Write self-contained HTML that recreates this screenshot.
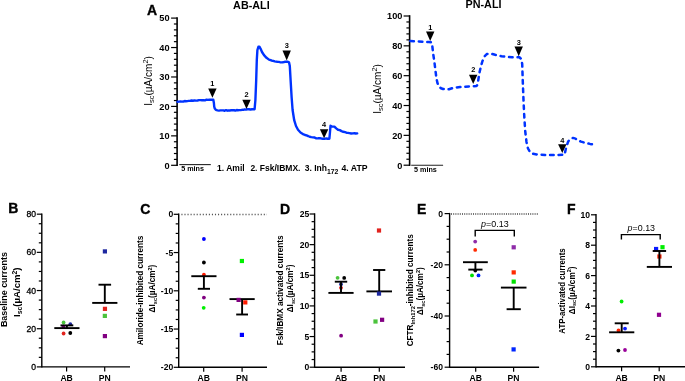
<!DOCTYPE html>
<html><head><meta charset="utf-8"><title>Figure</title>
<style>
html,body{margin:0;padding:0;background:#fff;}
body{width:685px;height:381px;overflow:hidden;}
svg{display:block;will-change:transform;filter:blur(0.3px);}
text{font-family:"Liberation Sans",sans-serif;}
</style></head>
<body>
<svg width="685" height="381" viewBox="0 0 685 381" font-family="Liberation Sans, sans-serif">
<rect width="685" height="381" fill="#fff"/>
<text x="147.00" y="14.80" font-size="14" font-weight="bold" text-anchor="start" fill="#000" stroke="#000" stroke-width="0.35">A</text>
<text x="251.40" y="8.80" font-size="10.8" font-weight="bold" text-anchor="middle" fill="#000" >AB-ALI</text>
<text x="483.50" y="7.90" font-size="10.8" font-weight="bold" text-anchor="middle" fill="#000" >PN-ALI</text>
<line x1="177.10" y1="18.10" x2="177.10" y2="165.30" stroke="#000" stroke-width="1.6" stroke-linecap="square"/>
<line x1="171.10" y1="165.30" x2="177.10" y2="165.30" stroke="#000" stroke-width="1.2" />
<text x="169.60" y="168.60" font-size="9.2" font-weight="bold" text-anchor="end" fill="#000" >0</text>
<line x1="173.90" y1="159.41" x2="177.10" y2="159.41" stroke="#000" stroke-width="1.2" />
<line x1="173.90" y1="153.52" x2="177.10" y2="153.52" stroke="#000" stroke-width="1.2" />
<line x1="173.90" y1="147.64" x2="177.10" y2="147.64" stroke="#000" stroke-width="1.2" />
<line x1="173.90" y1="141.75" x2="177.10" y2="141.75" stroke="#000" stroke-width="1.2" />
<line x1="171.10" y1="135.86" x2="177.10" y2="135.86" stroke="#000" stroke-width="1.2" />
<text x="169.60" y="139.16" font-size="9.2" font-weight="bold" text-anchor="end" fill="#000" >10</text>
<line x1="173.90" y1="129.97" x2="177.10" y2="129.97" stroke="#000" stroke-width="1.2" />
<line x1="173.90" y1="124.08" x2="177.10" y2="124.08" stroke="#000" stroke-width="1.2" />
<line x1="173.90" y1="118.20" x2="177.10" y2="118.20" stroke="#000" stroke-width="1.2" />
<line x1="173.90" y1="112.31" x2="177.10" y2="112.31" stroke="#000" stroke-width="1.2" />
<line x1="171.10" y1="106.42" x2="177.10" y2="106.42" stroke="#000" stroke-width="1.2" />
<text x="169.60" y="109.72" font-size="9.2" font-weight="bold" text-anchor="end" fill="#000" >20</text>
<line x1="173.90" y1="100.53" x2="177.10" y2="100.53" stroke="#000" stroke-width="1.2" />
<line x1="173.90" y1="94.64" x2="177.10" y2="94.64" stroke="#000" stroke-width="1.2" />
<line x1="173.90" y1="88.76" x2="177.10" y2="88.76" stroke="#000" stroke-width="1.2" />
<line x1="173.90" y1="82.87" x2="177.10" y2="82.87" stroke="#000" stroke-width="1.2" />
<line x1="171.10" y1="76.98" x2="177.10" y2="76.98" stroke="#000" stroke-width="1.2" />
<text x="169.60" y="80.28" font-size="9.2" font-weight="bold" text-anchor="end" fill="#000" >30</text>
<line x1="173.90" y1="71.09" x2="177.10" y2="71.09" stroke="#000" stroke-width="1.2" />
<line x1="173.90" y1="65.20" x2="177.10" y2="65.20" stroke="#000" stroke-width="1.2" />
<line x1="173.90" y1="59.32" x2="177.10" y2="59.32" stroke="#000" stroke-width="1.2" />
<line x1="173.90" y1="53.43" x2="177.10" y2="53.43" stroke="#000" stroke-width="1.2" />
<line x1="171.10" y1="47.54" x2="177.10" y2="47.54" stroke="#000" stroke-width="1.2" />
<text x="169.60" y="50.84" font-size="9.2" font-weight="bold" text-anchor="end" fill="#000" >40</text>
<line x1="173.90" y1="41.65" x2="177.10" y2="41.65" stroke="#000" stroke-width="1.2" />
<line x1="173.90" y1="35.76" x2="177.10" y2="35.76" stroke="#000" stroke-width="1.2" />
<line x1="173.90" y1="29.88" x2="177.10" y2="29.88" stroke="#000" stroke-width="1.2" />
<line x1="173.90" y1="23.99" x2="177.10" y2="23.99" stroke="#000" stroke-width="1.2" />
<line x1="171.10" y1="18.10" x2="177.10" y2="18.10" stroke="#000" stroke-width="1.2" />
<text x="169.60" y="21.40" font-size="9.2" font-weight="bold" text-anchor="end" fill="#000" >50</text>
<text x="152.00" y="81.00" font-size="10" text-anchor="middle" fill="#000" transform="rotate(-90 152.00 81.00)" >I<tspan font-size="7.6" dy="2.3">sc</tspan><tspan dy="-2.3">(µA/cm</tspan><tspan font-size="7.4" dy="-3.9">2</tspan><tspan dy="3.9">)</tspan></text>
<line x1="179.30" y1="164.60" x2="210.80" y2="164.60" stroke="#222" stroke-width="1.1" />
<text x="181.20" y="171.20" font-size="7.2" font-weight="bold" text-anchor="start" fill="#000" >5 mins</text>
<text x="217.10" y="170.90" font-size="8.5" font-weight="bold" text-anchor="start" fill="#000" >1. Amil</text>
<text x="250.40" y="170.90" font-size="8.5" font-weight="bold" text-anchor="start" fill="#000" >2. Fsk/IBMX.</text>
<text x="304.70" y="170.90" font-size="8.5" font-weight="bold" text-anchor="start" fill="#000" >3. Inh<tspan font-size="6.8" dy="2.6">172</tspan></text>
<text x="341.50" y="170.90" font-size="8.7" font-weight="bold" text-anchor="start" fill="#000" >4. ATP</text>
<path d="M177.50,101.80 L179.00,101.61 L180.50,101.42 L182.00,101.60 L183.33,101.57 L184.67,101.03 L186.00,101.20 L187.33,101.13 L188.67,100.91 L190.00,100.90 L191.50,100.52 L193.00,100.76 L194.50,100.35 L196.00,100.60 L197.50,100.48 L199.00,100.15 L200.50,100.09 L202.00,100.30 L203.50,100.15 L205.00,100.33 L206.50,99.74 L208.00,99.90 L209.47,99.61 L210.93,99.79 L212.40,99.60 L213.30,99.70 L213.90,103.00 L214.20,106.50 L214.80,108.60 L215.80,109.80 L217.50,110.30 L219.00,110.65 L220.50,110.42 L222.00,110.40 L223.33,110.34 L224.67,110.77 L226.00,110.13 L227.33,110.72 L228.67,110.34 L230.00,110.50 L231.33,110.20 L232.67,110.13 L234.00,110.22 L235.33,110.52 L236.67,110.03 L238.00,110.20 L239.33,110.16 L240.67,110.10 L242.00,109.81 L243.33,109.83 L244.67,109.39 L246.00,109.60 L247.50,109.22 L249.00,109.24 L250.50,109.50 L252.00,109.30 L254.60,109.20 L255.40,100.00 L256.20,80.00 L256.80,60.00 L257.40,50.00 L258.40,46.80 L259.40,46.70 L260.60,48.80 L262.00,52.00 L264.00,55.20 L266.50,57.80 L269.00,59.60 L270.50,60.10 L272.00,60.70 L273.33,60.87 L274.67,61.36 L276.00,61.60 L277.33,61.77 L278.67,61.86 L280.00,62.20 L281.33,62.34 L282.67,62.21 L284.00,62.00 L285.75,61.67 L287.50,61.70 L289.00,62.30 L289.80,66.00 L290.60,80.00 L291.60,97.00 L292.60,110.00 L294.20,120.20 L296.00,126.00 L298.00,129.80 L300.50,132.50 L303.60,134.40 L305.07,134.99 L306.53,135.48 L308.00,136.00 L309.67,136.73 L311.33,137.09 L313.00,137.40 L314.67,137.55 L316.33,138.34 L318.00,138.30 L319.67,138.17 L321.33,138.51 L323.00,138.70 L324.60,138.88 L326.20,138.46 L327.80,138.69 L329.40,138.70 L330.00,132.00 L330.50,125.80 L332.00,126.60 L334.40,126.60 L336.20,128.40 L338.00,129.80 L339.75,130.13 L341.50,131.10 L343.25,131.77 L345.00,132.20 L346.47,132.69 L347.93,132.85 L349.40,133.10 L351.20,133.51 L353.00,133.40 L354.40,133.27 L355.80,133.54 L357.20,133.40" fill="none" stroke="#0033ff" stroke-width="2.4" stroke-linejoin="round" stroke-linecap="round"/>
<path d="M208.20,88.60 L216.60,88.60 L212.40,97.80 Z" fill="#000"/>
<text x="212.40" y="85.80" font-size="7.4" font-weight="bold" text-anchor="middle" fill="#000" >1</text>
<path d="M242.30,99.70 L250.70,99.70 L246.50,108.90 Z" fill="#000"/>
<text x="246.50" y="96.90" font-size="7.4" font-weight="bold" text-anchor="middle" fill="#000" >2</text>
<path d="M282.50,50.40 L290.90,50.40 L286.70,60.40 Z" fill="#000"/>
<text x="286.70" y="48.40" font-size="7.4" font-weight="bold" text-anchor="middle" fill="#000" >3</text>
<path d="M319.90,129.30 L328.30,129.30 L324.10,138.20 Z" fill="#000"/>
<text x="324.10" y="127.40" font-size="7.4" font-weight="bold" text-anchor="middle" fill="#000" >4</text>
<line x1="409.60" y1="16.00" x2="409.60" y2="165.20" stroke="#000" stroke-width="1.6" stroke-linecap="square"/>
<line x1="403.60" y1="165.20" x2="409.60" y2="165.20" stroke="#000" stroke-width="1.2" />
<text x="402.40" y="168.50" font-size="9.2" font-weight="bold" text-anchor="end" fill="#000" >0</text>
<line x1="406.40" y1="159.23" x2="409.60" y2="159.23" stroke="#000" stroke-width="1.2" />
<line x1="406.40" y1="153.26" x2="409.60" y2="153.26" stroke="#000" stroke-width="1.2" />
<line x1="406.40" y1="147.30" x2="409.60" y2="147.30" stroke="#000" stroke-width="1.2" />
<line x1="406.40" y1="141.33" x2="409.60" y2="141.33" stroke="#000" stroke-width="1.2" />
<line x1="403.60" y1="135.36" x2="409.60" y2="135.36" stroke="#000" stroke-width="1.2" />
<text x="402.40" y="138.66" font-size="9.2" font-weight="bold" text-anchor="end" fill="#000" >20</text>
<line x1="406.40" y1="129.39" x2="409.60" y2="129.39" stroke="#000" stroke-width="1.2" />
<line x1="406.40" y1="123.42" x2="409.60" y2="123.42" stroke="#000" stroke-width="1.2" />
<line x1="406.40" y1="117.46" x2="409.60" y2="117.46" stroke="#000" stroke-width="1.2" />
<line x1="406.40" y1="111.49" x2="409.60" y2="111.49" stroke="#000" stroke-width="1.2" />
<line x1="403.60" y1="105.52" x2="409.60" y2="105.52" stroke="#000" stroke-width="1.2" />
<text x="402.40" y="108.82" font-size="9.2" font-weight="bold" text-anchor="end" fill="#000" >40</text>
<line x1="406.40" y1="99.55" x2="409.60" y2="99.55" stroke="#000" stroke-width="1.2" />
<line x1="406.40" y1="93.58" x2="409.60" y2="93.58" stroke="#000" stroke-width="1.2" />
<line x1="406.40" y1="87.62" x2="409.60" y2="87.62" stroke="#000" stroke-width="1.2" />
<line x1="406.40" y1="81.65" x2="409.60" y2="81.65" stroke="#000" stroke-width="1.2" />
<line x1="403.60" y1="75.68" x2="409.60" y2="75.68" stroke="#000" stroke-width="1.2" />
<text x="402.40" y="78.98" font-size="9.2" font-weight="bold" text-anchor="end" fill="#000" >60</text>
<line x1="406.40" y1="69.71" x2="409.60" y2="69.71" stroke="#000" stroke-width="1.2" />
<line x1="406.40" y1="63.74" x2="409.60" y2="63.74" stroke="#000" stroke-width="1.2" />
<line x1="406.40" y1="57.78" x2="409.60" y2="57.78" stroke="#000" stroke-width="1.2" />
<line x1="406.40" y1="51.81" x2="409.60" y2="51.81" stroke="#000" stroke-width="1.2" />
<line x1="403.60" y1="45.84" x2="409.60" y2="45.84" stroke="#000" stroke-width="1.2" />
<text x="402.40" y="49.14" font-size="9.2" font-weight="bold" text-anchor="end" fill="#000" >80</text>
<line x1="406.40" y1="39.87" x2="409.60" y2="39.87" stroke="#000" stroke-width="1.2" />
<line x1="406.40" y1="33.90" x2="409.60" y2="33.90" stroke="#000" stroke-width="1.2" />
<line x1="406.40" y1="27.94" x2="409.60" y2="27.94" stroke="#000" stroke-width="1.2" />
<line x1="406.40" y1="21.97" x2="409.60" y2="21.97" stroke="#000" stroke-width="1.2" />
<line x1="403.60" y1="16.00" x2="409.60" y2="16.00" stroke="#000" stroke-width="1.2" />
<text x="402.40" y="19.30" font-size="9.2" font-weight="bold" text-anchor="end" fill="#000" >100</text>
<text x="380.60" y="89.00" font-size="10" text-anchor="middle" fill="#000" transform="rotate(-90 380.60 89.00)" >I<tspan font-size="7.6" dy="2.3">sc</tspan><tspan dy="-2.3">(µA/cm</tspan><tspan font-size="7.4" dy="-3.9">2</tspan><tspan dy="3.9">)</tspan></text>
<line x1="411.20" y1="165.30" x2="443.10" y2="165.30" stroke="#222" stroke-width="1.1" />
<text x="414.00" y="171.90" font-size="7.2" font-weight="bold" text-anchor="start" fill="#000" >5 mins</text>
<path d="M410.30,41.00 L414.00,41.20 L418.00,41.50 L424.00,41.80 L429.00,42.00 L431.30,42.30 L432.30,46.00 L433.20,54.00 L434.40,62.00 L435.50,71.00 L436.50,78.80 L437.60,83.50 L439.00,86.50 L441.00,88.30 L443.00,89.00 L446.00,89.40 L449.00,89.20 L452.00,88.30 L455.40,87.60 L460.00,87.10 L464.00,86.80 L470.00,86.50 L476.50,86.00 L477.60,84.50 L478.60,78.00 L479.60,72.00 L481.00,66.00 L482.50,61.00 L484.70,56.20 L486.80,54.00 L489.00,53.70 L492.00,54.00 L495.20,54.80 L501.50,56.20 L507.00,56.90 L512.00,57.30 L519.40,57.30 L521.30,59.00 L522.20,64.00 L522.80,82.00 L523.50,100.00 L524.20,115.00 L525.20,131.00 L526.50,142.00 L528.00,148.50 L530.00,152.00 L533.00,153.80 L537.30,154.50 L547.80,155.10 L556.00,155.00 L564.60,154.70 L565.60,150.00 L566.60,146.00 L568.20,141.50 L570.00,139.20 L573.00,137.90 L575.50,138.60 L577.20,140.00 L581.00,141.60 L585.60,142.90 L590.00,143.90 L594.50,144.60" fill="none" stroke="#0033ff" stroke-width="2.5" stroke-dasharray="3.6 4.9" stroke-linejoin="round" stroke-linecap="round"/>
<path d="M426.00,31.60 L434.40,31.60 L430.20,41.00 Z" fill="#000"/>
<text x="430.20" y="29.80" font-size="7.4" font-weight="bold" text-anchor="middle" fill="#000" >1</text>
<path d="M469.00,74.70 L477.40,74.70 L473.20,84.00 Z" fill="#000"/>
<text x="473.20" y="72.30" font-size="7.4" font-weight="bold" text-anchor="middle" fill="#000" >2</text>
<path d="M514.50,46.50 L522.90,46.50 L518.70,56.20 Z" fill="#000"/>
<text x="518.70" y="44.60" font-size="7.4" font-weight="bold" text-anchor="middle" fill="#000" >3</text>
<path d="M558.10,144.30 L566.50,144.30 L562.30,153.00 Z" fill="#000"/>
<text x="562.30" y="142.60" font-size="7.4" font-weight="bold" text-anchor="middle" fill="#000" >4</text>
<text x="8.20" y="213.40" font-size="14" font-weight="bold" text-anchor="start" fill="#000" stroke="#000" stroke-width="0.35">B</text>
<text x="140.20" y="213.50" font-size="14" font-weight="bold" text-anchor="start" fill="#000" stroke="#000" stroke-width="0.35">C</text>
<text x="280.10" y="213.50" font-size="14" font-weight="bold" text-anchor="start" fill="#000" stroke="#000" stroke-width="0.35">D</text>
<text x="417.10" y="213.50" font-size="14" font-weight="bold" text-anchor="start" fill="#000" stroke="#000" stroke-width="0.35">E</text>
<text x="566.90" y="213.90" font-size="14" font-weight="bold" text-anchor="start" fill="#000" stroke="#000" stroke-width="0.35">F</text>
<line x1="41.80" y1="214.18" x2="41.80" y2="366.90" stroke="#000" stroke-width="1.4" stroke-linecap="square"/>
<line x1="36.80" y1="366.90" x2="41.80" y2="366.90" stroke="#000" stroke-width="1.2" />
<text x="36.00" y="369.90" font-size="8.6" text-anchor="end" fill="#000" stroke="#000" stroke-width="0.3">0</text>
<line x1="38.80" y1="357.35" x2="41.80" y2="357.35" stroke="#000" stroke-width="1.2" />
<line x1="38.80" y1="347.81" x2="41.80" y2="347.81" stroke="#000" stroke-width="1.2" />
<line x1="38.80" y1="338.26" x2="41.80" y2="338.26" stroke="#000" stroke-width="1.2" />
<line x1="36.80" y1="328.72" x2="41.80" y2="328.72" stroke="#000" stroke-width="1.2" />
<text x="36.00" y="331.72" font-size="8.6" text-anchor="end" fill="#000" stroke="#000" stroke-width="0.3">20</text>
<line x1="38.80" y1="319.17" x2="41.80" y2="319.17" stroke="#000" stroke-width="1.2" />
<line x1="38.80" y1="309.63" x2="41.80" y2="309.63" stroke="#000" stroke-width="1.2" />
<line x1="38.80" y1="300.08" x2="41.80" y2="300.08" stroke="#000" stroke-width="1.2" />
<line x1="36.80" y1="290.54" x2="41.80" y2="290.54" stroke="#000" stroke-width="1.2" />
<text x="36.00" y="293.54" font-size="8.6" text-anchor="end" fill="#000" stroke="#000" stroke-width="0.3">40</text>
<line x1="38.80" y1="281.00" x2="41.80" y2="281.00" stroke="#000" stroke-width="1.2" />
<line x1="38.80" y1="271.45" x2="41.80" y2="271.45" stroke="#000" stroke-width="1.2" />
<line x1="38.80" y1="261.90" x2="41.80" y2="261.90" stroke="#000" stroke-width="1.2" />
<line x1="36.80" y1="252.36" x2="41.80" y2="252.36" stroke="#000" stroke-width="1.2" />
<text x="36.00" y="255.36" font-size="8.6" text-anchor="end" fill="#000" stroke="#000" stroke-width="0.3">60</text>
<line x1="38.80" y1="242.81" x2="41.80" y2="242.81" stroke="#000" stroke-width="1.2" />
<line x1="38.80" y1="233.27" x2="41.80" y2="233.27" stroke="#000" stroke-width="1.2" />
<line x1="38.80" y1="223.72" x2="41.80" y2="223.72" stroke="#000" stroke-width="1.2" />
<line x1="36.80" y1="214.18" x2="41.80" y2="214.18" stroke="#000" stroke-width="1.2" />
<text x="36.00" y="217.18" font-size="8.6" text-anchor="end" fill="#000" stroke="#000" stroke-width="0.3">80</text>
<line x1="41.80" y1="366.90" x2="130.00" y2="366.90" stroke="#000" stroke-width="1.4" />
<line x1="66.60" y1="366.90" x2="66.60" y2="371.40" stroke="#000" stroke-width="1.2" />
<text x="66.60" y="380.90" font-size="8.6" font-weight="bold" text-anchor="middle" fill="#000" >AB</text>
<line x1="104.70" y1="366.90" x2="104.70" y2="371.40" stroke="#000" stroke-width="1.2" />
<text x="104.70" y="380.90" font-size="8.6" font-weight="bold" text-anchor="middle" fill="#000" >PN</text>
<text x="6.90" y="289.60" font-size="8.5" font-weight="bold" text-anchor="middle" fill="#000" textLength="75" lengthAdjust="spacingAndGlyphs" transform="rotate(-90 6.90 289.60)" >Baseline currents</text>
<text x="20.20" y="292.20" font-size="9.2" font-weight="bold" text-anchor="middle" fill="#000" textLength="49.5" lengthAdjust="spacingAndGlyphs" transform="rotate(-90 20.20 292.20)" ><tspan>I</tspan><tspan font-size="6.6" dy="2">sc</tspan><tspan dy="-2">(µA/cm</tspan><tspan font-size="6.6" dy="-3.6">2</tspan><tspan dy="3.6">)</tspan></text>
<circle cx="63.60" cy="322.50" r="1.9" fill="#4bc33c"/>
<circle cx="70.30" cy="324.20" r="1.9" fill="#1e28a0"/>
<circle cx="63.40" cy="326.70" r="1.9" fill="#820082"/>
<circle cx="70.30" cy="333.00" r="1.9" fill="#000"/>
<circle cx="63.60" cy="333.50" r="1.9" fill="#e1231e"/>
<line x1="54.30" y1="328.10" x2="79.50" y2="328.10" stroke="#000" stroke-width="1.9" />
<line x1="66.90" y1="328.10" x2="66.90" y2="325.40" stroke="#000" stroke-width="1.9" />
<line x1="60.50" y1="325.40" x2="73.30" y2="325.40" stroke="#000" stroke-width="1.9" />
<rect x="102.80" y="249.30" width="4.2" height="4.2" fill="#1e28a0"/>
<rect x="102.85" y="306.75" width="4.2" height="4.2" fill="#e1231e"/>
<rect x="102.75" y="313.80" width="4.2" height="4.2" fill="#4bc33c"/>
<rect x="102.80" y="334.00" width="4.2" height="4.2" fill="#820082"/>
<line x1="92.20" y1="302.90" x2="117.40" y2="302.90" stroke="#000" stroke-width="1.9" />
<line x1="104.80" y1="302.90" x2="104.80" y2="284.70" stroke="#000" stroke-width="1.9" />
<line x1="98.50" y1="284.70" x2="111.10" y2="284.70" stroke="#000" stroke-width="1.9" />
<line x1="178.70" y1="214.30" x2="178.70" y2="367.30" stroke="#000" stroke-width="1.4" stroke-linecap="square"/>
<line x1="173.70" y1="367.30" x2="178.70" y2="367.30" stroke="#000" stroke-width="1.2" />
<text x="173.20" y="370.40" font-size="8.6" font-weight="bold" text-anchor="end" fill="#000" >-20</text>
<line x1="175.70" y1="357.74" x2="178.70" y2="357.74" stroke="#000" stroke-width="1.2" />
<line x1="175.70" y1="348.18" x2="178.70" y2="348.18" stroke="#000" stroke-width="1.2" />
<line x1="175.70" y1="338.61" x2="178.70" y2="338.61" stroke="#000" stroke-width="1.2" />
<line x1="173.70" y1="329.05" x2="178.70" y2="329.05" stroke="#000" stroke-width="1.2" />
<text x="173.20" y="332.15" font-size="8.6" font-weight="bold" text-anchor="end" fill="#000" >-15</text>
<line x1="175.70" y1="319.49" x2="178.70" y2="319.49" stroke="#000" stroke-width="1.2" />
<line x1="175.70" y1="309.93" x2="178.70" y2="309.93" stroke="#000" stroke-width="1.2" />
<line x1="175.70" y1="300.36" x2="178.70" y2="300.36" stroke="#000" stroke-width="1.2" />
<line x1="173.70" y1="290.80" x2="178.70" y2="290.80" stroke="#000" stroke-width="1.2" />
<text x="173.20" y="293.90" font-size="8.6" font-weight="bold" text-anchor="end" fill="#000" >-10</text>
<line x1="175.70" y1="281.24" x2="178.70" y2="281.24" stroke="#000" stroke-width="1.2" />
<line x1="175.70" y1="271.68" x2="178.70" y2="271.68" stroke="#000" stroke-width="1.2" />
<line x1="175.70" y1="262.11" x2="178.70" y2="262.11" stroke="#000" stroke-width="1.2" />
<line x1="173.70" y1="252.55" x2="178.70" y2="252.55" stroke="#000" stroke-width="1.2" />
<text x="173.20" y="255.65" font-size="8.6" font-weight="bold" text-anchor="end" fill="#000" >-5</text>
<line x1="175.70" y1="242.99" x2="178.70" y2="242.99" stroke="#000" stroke-width="1.2" />
<line x1="175.70" y1="233.43" x2="178.70" y2="233.43" stroke="#000" stroke-width="1.2" />
<line x1="175.70" y1="223.86" x2="178.70" y2="223.86" stroke="#000" stroke-width="1.2" />
<line x1="173.70" y1="214.30" x2="178.70" y2="214.30" stroke="#000" stroke-width="1.2" />
<text x="173.20" y="217.40" font-size="8.6" font-weight="bold" text-anchor="end" fill="#000" >0</text>
<line x1="181.40" y1="214.50" x2="267.00" y2="214.50" stroke="#555" stroke-width="1.3" stroke-dasharray="1.1 1.95"/>
<line x1="178.70" y1="367.30" x2="267.00" y2="367.30" stroke="#000" stroke-width="1.4" />
<line x1="203.70" y1="367.30" x2="203.70" y2="371.80" stroke="#000" stroke-width="1.2" />
<text x="203.70" y="380.90" font-size="8.6" font-weight="bold" text-anchor="middle" fill="#000" >AB</text>
<line x1="242.10" y1="367.30" x2="242.10" y2="371.80" stroke="#000" stroke-width="1.2" />
<text x="242.10" y="380.90" font-size="8.6" font-weight="bold" text-anchor="middle" fill="#000" >PN</text>
<text x="142.90" y="290.50" font-size="8.2" font-weight="bold" text-anchor="middle" fill="#000" textLength="109.7" lengthAdjust="spacingAndGlyphs" transform="rotate(-90 142.90 290.50)" >Amiloride-inhibited currents</text>
<text x="155.00" y="288.50" font-size="8.2" font-weight="bold" text-anchor="middle" fill="#000" transform="rotate(-90 155.00 288.50)" >ΔI<tspan font-size="5.6" dy="1.8">sc</tspan><tspan dy="-1.8">(µA/cm</tspan><tspan font-size="5.6" dy="-3.2">2</tspan><tspan dy="3.2">)</tspan></text>
<circle cx="203.90" cy="239.00" r="1.9" fill="#0000ff"/>
<circle cx="203.90" cy="262.50" r="1.9" fill="#000"/>
<circle cx="203.90" cy="274.70" r="1.9" fill="#ff1a00"/>
<circle cx="203.90" cy="297.60" r="1.9" fill="#800080"/>
<circle cx="203.70" cy="307.80" r="1.9" fill="#00f000"/>
<line x1="191.30" y1="276.20" x2="216.50" y2="276.20" stroke="#000" stroke-width="1.9" />
<line x1="203.90" y1="276.20" x2="203.90" y2="288.80" stroke="#000" stroke-width="1.9" />
<line x1="197.80" y1="288.80" x2="210.00" y2="288.80" stroke="#000" stroke-width="1.9" />
<rect x="239.80" y="258.90" width="4.2" height="4.2" fill="#00f000"/>
<rect x="243.20" y="300.30" width="4.2" height="4.2" fill="#ff1a00"/>
<rect x="239.80" y="332.80" width="4.2" height="4.2" fill="#0000ff"/>
<line x1="229.50" y1="299.10" x2="254.70" y2="299.10" stroke="#000" stroke-width="1.9" />
<line x1="242.10" y1="299.10" x2="242.10" y2="314.50" stroke="#000" stroke-width="1.9" />
<line x1="236.20" y1="314.50" x2="248.00" y2="314.50" stroke="#000" stroke-width="1.9" />
<rect x="236.50" y="297.80" width="4.2" height="4.2" fill="#800080"/>
<line x1="314.60" y1="214.00" x2="314.60" y2="367.20" stroke="#000" stroke-width="1.4" stroke-linecap="square"/>
<line x1="309.60" y1="367.20" x2="314.60" y2="367.20" stroke="#000" stroke-width="1.2" />
<text x="309.30" y="370.30" font-size="8.6" font-weight="bold" text-anchor="end" fill="#000" >0</text>
<line x1="311.60" y1="359.54" x2="314.60" y2="359.54" stroke="#000" stroke-width="1.2" />
<line x1="311.60" y1="351.88" x2="314.60" y2="351.88" stroke="#000" stroke-width="1.2" />
<line x1="311.60" y1="344.22" x2="314.60" y2="344.22" stroke="#000" stroke-width="1.2" />
<line x1="309.60" y1="336.56" x2="314.60" y2="336.56" stroke="#000" stroke-width="1.2" />
<text x="309.30" y="339.66" font-size="8.6" font-weight="bold" text-anchor="end" fill="#000" >5</text>
<line x1="311.60" y1="328.90" x2="314.60" y2="328.90" stroke="#000" stroke-width="1.2" />
<line x1="311.60" y1="321.24" x2="314.60" y2="321.24" stroke="#000" stroke-width="1.2" />
<line x1="311.60" y1="313.58" x2="314.60" y2="313.58" stroke="#000" stroke-width="1.2" />
<line x1="309.60" y1="305.92" x2="314.60" y2="305.92" stroke="#000" stroke-width="1.2" />
<text x="309.30" y="309.02" font-size="8.6" font-weight="bold" text-anchor="end" fill="#000" >10</text>
<line x1="311.60" y1="298.26" x2="314.60" y2="298.26" stroke="#000" stroke-width="1.2" />
<line x1="311.60" y1="290.60" x2="314.60" y2="290.60" stroke="#000" stroke-width="1.2" />
<line x1="311.60" y1="282.94" x2="314.60" y2="282.94" stroke="#000" stroke-width="1.2" />
<line x1="309.60" y1="275.28" x2="314.60" y2="275.28" stroke="#000" stroke-width="1.2" />
<text x="309.30" y="278.38" font-size="8.6" font-weight="bold" text-anchor="end" fill="#000" >15</text>
<line x1="311.60" y1="267.62" x2="314.60" y2="267.62" stroke="#000" stroke-width="1.2" />
<line x1="311.60" y1="259.96" x2="314.60" y2="259.96" stroke="#000" stroke-width="1.2" />
<line x1="311.60" y1="252.30" x2="314.60" y2="252.30" stroke="#000" stroke-width="1.2" />
<line x1="309.60" y1="244.64" x2="314.60" y2="244.64" stroke="#000" stroke-width="1.2" />
<text x="309.30" y="247.74" font-size="8.6" font-weight="bold" text-anchor="end" fill="#000" >20</text>
<line x1="311.60" y1="236.98" x2="314.60" y2="236.98" stroke="#000" stroke-width="1.2" />
<line x1="311.60" y1="229.32" x2="314.60" y2="229.32" stroke="#000" stroke-width="1.2" />
<line x1="311.60" y1="221.66" x2="314.60" y2="221.66" stroke="#000" stroke-width="1.2" />
<line x1="309.60" y1="214.00" x2="314.60" y2="214.00" stroke="#000" stroke-width="1.2" />
<text x="309.30" y="217.10" font-size="8.6" font-weight="bold" text-anchor="end" fill="#000" >25</text>
<line x1="314.60" y1="367.20" x2="405.00" y2="367.20" stroke="#000" stroke-width="1.4" />
<line x1="341.10" y1="367.20" x2="341.10" y2="371.70" stroke="#000" stroke-width="1.2" />
<text x="341.10" y="380.90" font-size="8.6" font-weight="bold" text-anchor="middle" fill="#000" >AB</text>
<line x1="379.30" y1="367.20" x2="379.30" y2="371.70" stroke="#000" stroke-width="1.2" />
<text x="379.30" y="380.90" font-size="8.6" font-weight="bold" text-anchor="middle" fill="#000" >PN</text>
<text x="282.70" y="290.30" font-size="8.2" font-weight="bold" text-anchor="middle" fill="#000" textLength="110" lengthAdjust="spacingAndGlyphs" transform="rotate(-90 282.70 290.30)" >Fsk/IBMX activated currents</text>
<text x="293.20" y="288.40" font-size="8.2" font-weight="bold" text-anchor="middle" fill="#000" transform="rotate(-90 293.20 288.40)" >ΔI<tspan font-size="5.6" dy="1.8">sc</tspan><tspan dy="-1.8">(µA/cm</tspan><tspan font-size="5.6" dy="-3.2">2</tspan><tspan dy="3.2">)</tspan></text>
<circle cx="337.60" cy="277.80" r="1.9" fill="#4bc33c"/>
<circle cx="344.20" cy="277.90" r="1.9" fill="#000"/>
<circle cx="341.00" cy="284.20" r="1.9" fill="#1e28a0"/>
<circle cx="341.00" cy="287.80" r="1.9" fill="#e1231e"/>
<circle cx="341.10" cy="335.70" r="1.9" fill="#820082"/>
<line x1="328.40" y1="292.90" x2="353.60" y2="292.90" stroke="#000" stroke-width="1.9" />
<line x1="341.00" y1="292.90" x2="341.00" y2="281.70" stroke="#000" stroke-width="1.9" />
<line x1="334.80" y1="281.70" x2="347.20" y2="281.70" stroke="#000" stroke-width="1.9" />
<rect x="376.90" y="228.40" width="4.2" height="4.2" fill="#e1231e"/>
<rect x="373.40" y="319.40" width="4.2" height="4.2" fill="#4bc33c"/>
<rect x="380.00" y="317.70" width="4.2" height="4.2" fill="#820082"/>
<line x1="366.40" y1="291.40" x2="392.00" y2="291.40" stroke="#000" stroke-width="1.9" />
<line x1="379.20" y1="291.40" x2="379.20" y2="270.00" stroke="#000" stroke-width="1.9" />
<line x1="373.10" y1="270.00" x2="385.30" y2="270.00" stroke="#000" stroke-width="1.9" />
<rect x="376.90" y="291.50" width="4.2" height="4.2" fill="#1e28a0"/>
<line x1="449.60" y1="213.60" x2="449.60" y2="367.20" stroke="#000" stroke-width="1.4" stroke-linecap="square"/>
<line x1="444.60" y1="367.20" x2="449.60" y2="367.20" stroke="#000" stroke-width="1.2" />
<text x="443.00" y="370.30" font-size="8.6" font-weight="bold" text-anchor="end" fill="#000" >-60</text>
<line x1="446.60" y1="354.40" x2="449.60" y2="354.40" stroke="#000" stroke-width="1.2" />
<line x1="446.60" y1="341.60" x2="449.60" y2="341.60" stroke="#000" stroke-width="1.2" />
<line x1="446.60" y1="328.80" x2="449.60" y2="328.80" stroke="#000" stroke-width="1.2" />
<line x1="444.60" y1="316.00" x2="449.60" y2="316.00" stroke="#000" stroke-width="1.2" />
<text x="443.00" y="319.10" font-size="8.6" font-weight="bold" text-anchor="end" fill="#000" >-40</text>
<line x1="446.60" y1="303.20" x2="449.60" y2="303.20" stroke="#000" stroke-width="1.2" />
<line x1="446.60" y1="290.40" x2="449.60" y2="290.40" stroke="#000" stroke-width="1.2" />
<line x1="446.60" y1="277.60" x2="449.60" y2="277.60" stroke="#000" stroke-width="1.2" />
<line x1="444.60" y1="264.80" x2="449.60" y2="264.80" stroke="#000" stroke-width="1.2" />
<text x="443.00" y="267.90" font-size="8.6" font-weight="bold" text-anchor="end" fill="#000" >-20</text>
<line x1="446.60" y1="252.00" x2="449.60" y2="252.00" stroke="#000" stroke-width="1.2" />
<line x1="446.60" y1="239.20" x2="449.60" y2="239.20" stroke="#000" stroke-width="1.2" />
<line x1="446.60" y1="226.40" x2="449.60" y2="226.40" stroke="#000" stroke-width="1.2" />
<line x1="444.60" y1="213.60" x2="449.60" y2="213.60" stroke="#000" stroke-width="1.2" />
<text x="443.00" y="216.70" font-size="8.6" font-weight="bold" text-anchor="end" fill="#000" >0</text>
<line x1="451.00" y1="214.00" x2="539.00" y2="214.00" stroke="#444" stroke-width="1.3" stroke-dasharray="1 1.2"/>
<line x1="449.60" y1="367.20" x2="539.10" y2="367.20" stroke="#000" stroke-width="1.4" />
<line x1="475.70" y1="367.20" x2="475.70" y2="371.70" stroke="#000" stroke-width="1.2" />
<text x="475.70" y="380.90" font-size="8.6" font-weight="bold" text-anchor="middle" fill="#000" >AB</text>
<line x1="513.60" y1="367.20" x2="513.60" y2="371.70" stroke="#000" stroke-width="1.2" />
<text x="513.60" y="380.90" font-size="8.6" font-weight="bold" text-anchor="middle" fill="#000" >PN</text>
<text x="412.90" y="290.30" font-size="8.2" font-weight="bold" text-anchor="middle" fill="#000" transform="rotate(-90 412.90 290.30)" >CFTR<tspan font-size="5.8" dy="1.8">Inh172</tspan><tspan dy="-1.8">-inhibited currents</tspan></text>
<text x="423.40" y="291.10" font-size="8.2" font-weight="bold" text-anchor="middle" fill="#000" transform="rotate(-90 423.40 291.10)" >ΔI<tspan font-size="5.6" dy="1.8">sc</tspan><tspan dy="-1.8">(µA/cm</tspan><tspan font-size="5.6" dy="-3.2">2</tspan><tspan dy="3.2">)</tspan></text>
<circle cx="475.20" cy="241.60" r="1.9" fill="#8e2ca8"/>
<circle cx="475.20" cy="249.90" r="1.9" fill="#ff2a00"/>
<circle cx="475.30" cy="270.60" r="1.9" fill="#000"/>
<circle cx="472.00" cy="275.40" r="1.9" fill="#00e000"/>
<circle cx="478.50" cy="275.40" r="1.9" fill="#0026ff"/>
<line x1="463.00" y1="262.20" x2="487.80" y2="262.20" stroke="#000" stroke-width="1.9" />
<line x1="475.40" y1="262.20" x2="475.40" y2="269.60" stroke="#000" stroke-width="1.9" />
<line x1="468.30" y1="269.60" x2="482.50" y2="269.60" stroke="#000" stroke-width="1.9" />
<rect x="511.60" y="245.20" width="4.2" height="4.2" fill="#8e2ca8"/>
<rect x="511.60" y="270.30" width="4.2" height="4.2" fill="#ff2a00"/>
<rect x="511.60" y="279.50" width="4.2" height="4.2" fill="#00e000"/>
<rect x="511.50" y="347.30" width="4.2" height="4.2" fill="#0026ff"/>
<line x1="500.90" y1="287.60" x2="526.50" y2="287.60" stroke="#000" stroke-width="1.9" />
<line x1="513.70" y1="287.60" x2="513.70" y2="309.20" stroke="#000" stroke-width="1.9" />
<line x1="506.60" y1="309.20" x2="520.80" y2="309.20" stroke="#000" stroke-width="1.9" />
<path d="M475.2,236.6 L475.2,230.4 L514.3,230.4 L514.3,236.6" fill="none" stroke="#000" stroke-width="1.4"/>
<text x="494.90" y="226.80" font-size="8.8" text-anchor="middle" fill="#000" textLength="27.6" lengthAdjust="spacingAndGlyphs" ><tspan font-style="italic">p</tspan>=0.13</text>
<line x1="596.00" y1="214.80" x2="596.00" y2="366.80" stroke="#000" stroke-width="1.4" stroke-linecap="square"/>
<line x1="591.00" y1="366.80" x2="596.00" y2="366.80" stroke="#000" stroke-width="1.2" />
<text x="590.00" y="369.90" font-size="8.6" font-weight="bold" text-anchor="end" fill="#000" >0</text>
<line x1="593.00" y1="359.20" x2="596.00" y2="359.20" stroke="#000" stroke-width="1.2" />
<line x1="593.00" y1="351.60" x2="596.00" y2="351.60" stroke="#000" stroke-width="1.2" />
<line x1="593.00" y1="344.00" x2="596.00" y2="344.00" stroke="#000" stroke-width="1.2" />
<line x1="591.00" y1="336.40" x2="596.00" y2="336.40" stroke="#000" stroke-width="1.2" />
<text x="590.00" y="339.50" font-size="8.6" font-weight="bold" text-anchor="end" fill="#000" >2</text>
<line x1="593.00" y1="328.80" x2="596.00" y2="328.80" stroke="#000" stroke-width="1.2" />
<line x1="593.00" y1="321.20" x2="596.00" y2="321.20" stroke="#000" stroke-width="1.2" />
<line x1="593.00" y1="313.60" x2="596.00" y2="313.60" stroke="#000" stroke-width="1.2" />
<line x1="591.00" y1="306.00" x2="596.00" y2="306.00" stroke="#000" stroke-width="1.2" />
<text x="590.00" y="309.10" font-size="8.6" font-weight="bold" text-anchor="end" fill="#000" >4</text>
<line x1="593.00" y1="298.40" x2="596.00" y2="298.40" stroke="#000" stroke-width="1.2" />
<line x1="593.00" y1="290.80" x2="596.00" y2="290.80" stroke="#000" stroke-width="1.2" />
<line x1="593.00" y1="283.20" x2="596.00" y2="283.20" stroke="#000" stroke-width="1.2" />
<line x1="591.00" y1="275.60" x2="596.00" y2="275.60" stroke="#000" stroke-width="1.2" />
<text x="590.00" y="278.70" font-size="8.6" font-weight="bold" text-anchor="end" fill="#000" >6</text>
<line x1="593.00" y1="268.00" x2="596.00" y2="268.00" stroke="#000" stroke-width="1.2" />
<line x1="593.00" y1="260.40" x2="596.00" y2="260.40" stroke="#000" stroke-width="1.2" />
<line x1="593.00" y1="252.80" x2="596.00" y2="252.80" stroke="#000" stroke-width="1.2" />
<line x1="591.00" y1="245.20" x2="596.00" y2="245.20" stroke="#000" stroke-width="1.2" />
<text x="590.00" y="248.30" font-size="8.6" font-weight="bold" text-anchor="end" fill="#000" >8</text>
<line x1="593.00" y1="237.60" x2="596.00" y2="237.60" stroke="#000" stroke-width="1.2" />
<line x1="593.00" y1="230.00" x2="596.00" y2="230.00" stroke="#000" stroke-width="1.2" />
<line x1="593.00" y1="222.40" x2="596.00" y2="222.40" stroke="#000" stroke-width="1.2" />
<line x1="591.00" y1="214.80" x2="596.00" y2="214.80" stroke="#000" stroke-width="1.2" />
<text x="590.00" y="217.90" font-size="8.6" font-weight="bold" text-anchor="end" fill="#000" >10</text>
<line x1="596.00" y1="366.80" x2="685.00" y2="366.80" stroke="#000" stroke-width="1.4" />
<line x1="621.60" y1="366.80" x2="621.60" y2="371.30" stroke="#000" stroke-width="1.2" />
<text x="621.60" y="380.90" font-size="8.6" font-weight="bold" text-anchor="middle" fill="#000" >AB</text>
<line x1="659.20" y1="366.80" x2="659.20" y2="371.30" stroke="#000" stroke-width="1.2" />
<text x="659.20" y="380.90" font-size="8.6" font-weight="bold" text-anchor="middle" fill="#000" >PN</text>
<text x="565.30" y="291.00" font-size="8.2" font-weight="bold" text-anchor="middle" fill="#000" textLength="85.3" lengthAdjust="spacingAndGlyphs" transform="rotate(-90 565.30 291.00)" >ATP-activated currents</text>
<text x="574.70" y="290.30" font-size="8.2" font-weight="bold" text-anchor="middle" fill="#000" transform="rotate(-90 574.70 290.30)" >ΔI<tspan font-size="5.6" dy="1.8">sc</tspan><tspan dy="-1.8">(µA/cm</tspan><tspan font-size="5.6" dy="-3.2">2</tspan><tspan dy="3.2">)</tspan></text>
<circle cx="621.60" cy="301.50" r="1.9" fill="#00ee00"/>
<circle cx="625.00" cy="328.60" r="1.9" fill="#0a1aff"/>
<circle cx="618.50" cy="330.40" r="1.9" fill="#ff2200"/>
<circle cx="618.40" cy="350.60" r="1.9" fill="#000"/>
<circle cx="625.00" cy="350.00" r="1.9" fill="#990099"/>
<line x1="609.10" y1="332.30" x2="634.30" y2="332.30" stroke="#000" stroke-width="1.9" />
<line x1="621.70" y1="332.30" x2="621.70" y2="323.30" stroke="#000" stroke-width="1.9" />
<line x1="614.70" y1="323.30" x2="628.70" y2="323.30" stroke="#000" stroke-width="1.9" />
<rect x="660.40" y="245.10" width="4.2" height="4.2" fill="#00ee00"/>
<rect x="654.00" y="246.90" width="4.2" height="4.2" fill="#0a1aff"/>
<rect x="657.30" y="254.40" width="4.2" height="4.2" fill="#ff2200"/>
<rect x="656.90" y="312.70" width="4.2" height="4.2" fill="#900090"/>
<line x1="646.80" y1="266.90" x2="672.00" y2="266.90" stroke="#000" stroke-width="1.9" />
<line x1="659.40" y1="266.90" x2="659.40" y2="251.00" stroke="#000" stroke-width="1.9" />
<line x1="652.70" y1="251.00" x2="666.10" y2="251.00" stroke="#000" stroke-width="1.9" />
<path d="M621.4,239.4 L621.4,234.6 L660.2,234.6 L660.2,239.4" fill="none" stroke="#000" stroke-width="1.4"/>
<text x="641.30" y="231.00" font-size="8.8" text-anchor="middle" fill="#000" textLength="27.4" lengthAdjust="spacingAndGlyphs" ><tspan font-style="italic">p</tspan>=0.13</text>
</svg>
</body></html>
